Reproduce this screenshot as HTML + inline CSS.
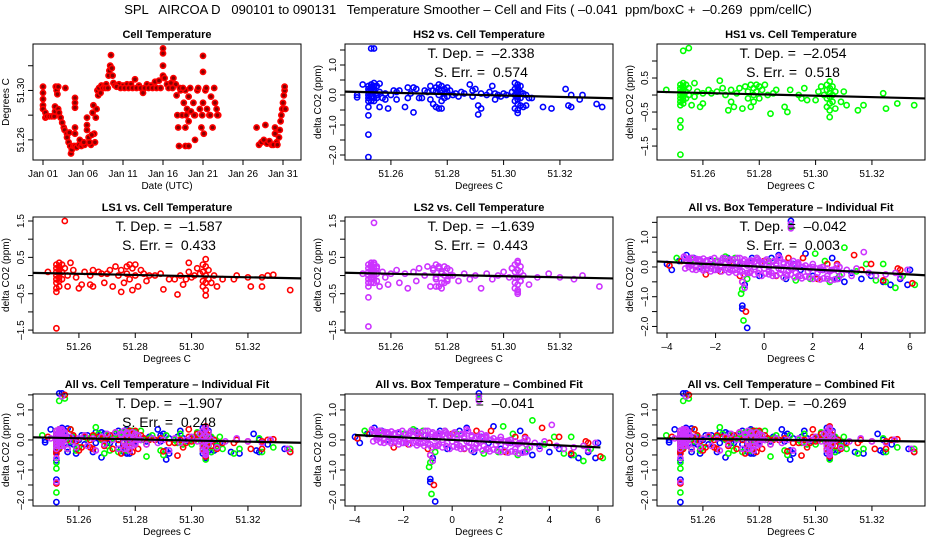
<!DOCTYPE html>
<html><head><meta charset="utf-8"><style>
html,body{margin:0;padding:0;background:#fff;}
svg{display:block;font-family:"Liberation Sans",Arial,sans-serif;}
svg text{white-space:pre;}
</style></head><body>
<svg id="c" width="936" height="540" viewBox="0 0 936 540">
<text x="468" y="14" text-anchor="middle" font-size="13" xml:space="preserve">SPL   AIRCOA D   090101 to 090131   Temperature Smoother – Cell and Fits ( –0.041  ppm/boxC +  –0.269  ppm/cellC)</text>
</svg>
<script>
// ---------- DATA ----------
const timeDays=[0,0,0,0,0,0.3,0.3,0.5,0.8,1.1,1.4,1.5,1.5,1.6,1.7,1.8,1.9,1.9,2.0,2.2,2.4,2.6,2.7,3.0,3.0,3.2,3.4,3.5,3.6,3.8,4.0,4.0,4.0,4.0,4.0,4.0,4.2,4.5,4.8,5.0,5.2,5.5,5.5,5.5,5.7,6.0,6.2,6.3,6.4,6.5,6.6,6.7,6.8,6.9,7.0,7.3,7.6,7.9,8.2,8.3,8.4,8.5,8.6,8.7,8.8,9.0,9.5,10,10.5,11,11.5,12,12.5,13,13.5,14,14.5,15,15,15,15,15.2,15.5,16,16.3,16.6,16.7,16.8,16.9,17.0,17.2,17.4,17.6,17.8,17.8,17.8,18.0,18.2,18.2,18.2,18.5,18.8,19.0,19.0,19.3,19.6,19.8,20.0,20.0,20.0,20.1,20.3,20.5,20.8,21.0,21.2,21.5,21.7,21.9,26.7,27.0,27.3,27.6,28.0,28.3,28.6,29.0,29.0,29.2,29.5,29.6,29.7,29.8,29.9,30.0,30.1,30.2,30.2,30.3,7.2,7.5,7.8,8.1,9.2,9.7,10.2,10.7,11.2,11.7,12.2,12.7,13.2,13.7,14.2,14.7,15.7,16.2,17.1,17.5,17.9,18.4,18.9,19.4,19.9,20.4,20.9,21.4,21.8,2.8,3.3,4.6,5.1,5.8,6.1,27.8,28.8,29.3];
const timeTemps=[51.303,51.298,51.293,51.288,51.285,51.282,51.278,51.279,51.279,51.279,51.279,51.283,51.287,51.303,51.300,51.297,51.285,51.303,51.282,51.278,51.274,51.270,51.268,51.265,51.262,51.258,51.255,51.249,51.252,51.255,51.294,51.290,51.286,51.270,51.265,51.255,51.254,51.256,51.255,51.257,51.256,51.278,51.272,51.268,51.262,51.256,51.282,51.288,51.265,51.258,51.278,51.285,51.300,51.296,51.302,51.304,51.303,51.305,51.312,51.316,51.320,51.3286,51.318,51.312,51.306,51.304,51.305,51.304,51.305,51.305,51.309,51.304,51.298,51.305,51.304,51.307,51.308,51.312,51.320,51.330,51.334,51.310,51.305,51.306,51.310,51.305,51.296,51.280,51.270,51.255,51.300,51.280,51.290,51.255,51.270,51.300,51.285,51.255,51.275,51.295,51.283,51.290,51.260,51.280,51.300,51.285,51.270,51.328,51.315,51.290,51.265,51.300,51.285,51.280,51.295,51.270,51.290,51.285,51.280,51.270,51.256,51.258,51.260,51.257,51.259,51.256,51.265,51.270,51.258,51.262,51.268,51.275,51.280,51.285,51.290,51.296,51.300,51.303,51.285,51.298,51.302,51.302,51.302,51.303,51.302,51.302,51.302,51.302,51.302,51.302,51.302,51.302,51.302,51.302,51.302,51.302,51.302,51.302,51.302,51.280,51.302,51.280,51.302,51.280,51.302,51.280,51.302,51.280,51.302,51.266,51.260,51.258,51.258,51.264,51.272,51.256,51.256,51.258];

const hs2T=[51.248,51.248,51.250,51.252,51.252,51.252,51.252,51.252,51.252,51.252,51.252,51.252,51.252,51.253,51.254,51.253,51.253,51.253,51.253,51.253,51.253,51.254,51.254,51.254,51.254,51.254,51.254,51.255,51.255,51.255,51.256,51.256,51.256,51.257,51.258,51.258,51.259,51.260,51.261,51.262,51.262,51.263,51.265,51.266,51.266,51.267,51.268,51.268,51.269,51.270,51.271,51.272,51.273,51.274,51.274,51.275,51.275,51.276,51.276,51.276,51.277,51.277,51.277,51.277,51.278,51.278,51.278,51.278,51.279,51.279,51.279,51.280,51.280,51.280,51.281,51.282,51.283,51.284,51.285,51.286,51.288,51.289,51.289,51.290,51.291,51.291,51.292,51.292,51.294,51.295,51.296,51.297,51.297,51.298,51.299,51.300,51.301,51.303,51.304,51.304,51.304,51.304,51.304,51.305,51.305,51.305,51.305,51.305,51.305,51.305,51.305,51.305,51.306,51.306,51.306,51.306,51.307,51.307,51.308,51.308,51.309,51.310,51.314,51.317,51.322,51.323,51.324,51.324,51.327,51.328,51.333,51.335];
const hs2D=[0.0,-0.08,0.35,0.3,0.2,0.1,0.0,-0.1,-0.2,-0.4,-0.68,-1.32,-2.07,1.55,1.55,0.35,0.25,0.15,0.05,-0.05,-0.2,0.4,0.3,0.2,0.1,-0.1,-0.2,0.3,0.0,-0.1,0.38,0.1,-0.4,-0.1,0.05,-0.15,-0.45,0.0,0.15,0.1,-0.15,0.15,-0.4,0.25,-0.1,0.05,0.25,-0.58,0.2,-0.1,-0.1,0.15,0.1,0.3,-0.15,-0.3,0.15,-0.4,0.25,0.1,-0.45,0.35,0.2,0.0,0.3,0.15,-0.2,-0.45,0.2,0.05,-0.1,0.25,0.1,-0.05,0.15,0.0,0.05,-0.05,0.1,0.05,0.35,0.15,-0.05,0.2,-0.35,-0.65,0.05,-0.45,0.0,0.1,0.3,0.05,-0.15,0.0,-0.05,0.05,0.0,0.1,0.4,0.2,0.0,-0.2,-0.45,0.35,0.25,0.15,0.05,-0.05,-0.15,-0.3,-0.5,-0.6,0.3,0.1,-0.1,-0.35,0.05,-0.4,0.0,-0.35,-0.1,-0.1,-0.4,-0.45,0.2,-0.35,0.0,-0.4,-0.15,0.0,-0.3,-0.4];

const hs1T=[51.247,51.252,51.252,51.252,51.252,51.252,51.252,51.252,51.252,51.252,51.252,51.253,51.255,51.253,51.253,51.253,51.253,51.253,51.253,51.253,51.254,51.254,51.254,51.255,51.255,51.256,51.257,51.257,51.258,51.259,51.260,51.260,51.262,51.263,51.265,51.266,51.267,51.268,51.269,51.270,51.270,51.271,51.272,51.273,51.274,51.275,51.276,51.276,51.277,51.277,51.278,51.278,51.278,51.279,51.279,51.280,51.280,51.281,51.282,51.283,51.284,51.285,51.286,51.289,51.290,51.291,51.294,51.295,51.296,51.297,51.300,51.301,51.302,51.303,51.304,51.304,51.304,51.304,51.305,51.305,51.305,51.305,51.305,51.305,51.305,51.306,51.306,51.306,51.307,51.307,51.309,51.310,51.311,51.315,51.317,51.324,51.325,51.329,51.335];
const hs1D=[0.15,0.3,0.2,0.1,0.0,-0.1,-0.2,-0.3,-0.75,-0.95,-1.75,1.3,1.38,0.35,0.25,0.15,0.05,-0.05,-0.15,-0.25,0.3,0.1,-0.1,0.2,0.0,-0.3,0.35,-0.05,0.1,-0.35,0.05,-0.25,0.15,0.05,0.1,0.42,0.2,0.0,-0.45,0.15,-0.2,-0.35,0.05,0.2,-0.4,0.25,0.1,-0.1,0.3,-0.35,0.2,0.0,-0.2,0.3,0.1,0.25,-0.1,0.15,0.3,0.0,-0.55,0.05,0.15,-0.35,-0.5,0.15,0.0,-0.1,0.2,-0.15,-0.15,0.1,0.25,0.0,0.3,0.15,-0.1,-0.35,0.4,0.2,0.05,-0.05,-0.25,-0.45,-0.65,0.25,0.0,-0.2,0.1,-0.4,-0.2,0.1,-0.3,-0.45,-0.3,0.05,-0.4,-0.25,-0.3];

const ls1T=[51.249,51.252,51.252,51.252,51.252,51.252,51.252,51.252,51.252,51.252,51.255,51.253,51.253,51.253,51.253,51.253,51.253,51.253,51.254,51.254,51.254,51.255,51.256,51.256,51.257,51.258,51.259,51.260,51.261,51.262,51.264,51.264,51.265,51.265,51.267,51.268,51.269,51.270,51.271,51.272,51.273,51.274,51.275,51.275,51.276,51.277,51.277,51.278,51.278,51.279,51.279,51.280,51.280,51.281,51.282,51.283,51.284,51.285,51.287,51.289,51.290,51.292,51.294,51.295,51.296,51.297,51.298,51.299,51.299,51.300,51.301,51.302,51.303,51.304,51.304,51.304,51.304,51.305,51.305,51.305,51.305,51.305,51.305,51.306,51.306,51.307,51.308,51.309,51.311,51.315,51.316,51.320,51.321,51.325,51.325,51.327,51.329,51.335];
const ls1D=[0.1,0.3,0.2,0.1,0.0,-0.1,-0.2,-0.35,-0.45,-1.45,1.5,0.35,0.25,0.15,0.05,-0.05,-0.15,-0.3,0.3,0.1,-0.1,0.2,0.0,-0.3,0.35,0.15,-0.05,-0.35,-0.25,0.1,0.0,-0.25,0.15,-0.3,0.1,0.05,-0.2,0.05,0.15,-0.3,0.25,0.0,0.15,-0.45,-0.2,0.25,0.05,0.3,-0.1,0.2,-0.4,0.3,0.0,-0.3,0.15,0.05,-0.15,0.0,0.0,0.05,-0.38,-0.1,-0.1,-0.52,0.0,-0.25,-0.1,0.35,0.1,-0.05,0.0,0.2,0.05,0.3,0.1,-0.15,-0.3,0.45,0.25,0.0,-0.2,-0.4,-0.55,0.15,-0.1,-0.2,0.0,-0.3,-0.1,-0.1,0.0,-0.05,-0.3,-0.05,-0.3,0.0,0.02,-0.4];

const ls2T=[51.250,51.252,51.252,51.252,51.252,51.252,51.252,51.252,51.252,51.252,51.254,51.253,51.253,51.253,51.253,51.253,51.253,51.254,51.254,51.254,51.255,51.256,51.257,51.258,51.259,51.260,51.262,51.263,51.265,51.266,51.268,51.269,51.270,51.272,51.273,51.274,51.275,51.276,51.276,51.277,51.277,51.278,51.278,51.279,51.279,51.280,51.281,51.282,51.284,51.286,51.288,51.290,51.292,51.294,51.296,51.298,51.300,51.302,51.303,51.304,51.304,51.305,51.305,51.305,51.305,51.305,51.305,51.306,51.306,51.307,51.309,51.312,51.316,51.320,51.325,51.328,51.334];
const ls2D=[0.05,0.3,0.2,0.1,0.0,-0.1,-0.2,-0.3,-0.6,-1.4,1.45,0.35,0.25,0.15,0.05,-0.05,-0.2,0.3,0.1,-0.1,0.2,-0.3,0.1,-0.05,-0.25,0.05,0.15,-0.2,0.05,-0.35,0.1,-0.15,0.2,0.0,0.25,-0.3,0.15,0.3,-0.1,0.2,-0.3,0.1,-0.2,0.25,0.0,-0.1,0.15,0.0,-0.15,0.05,-0.1,0.0,-0.35,0.05,-0.1,0.0,0.1,-0.05,0.2,0.3,-0.2,0.35,0.15,-0.05,-0.25,-0.4,-0.5,0.1,-0.15,0.0,-0.25,-0.05,0.05,-0.05,-0.1,0.0,-0.3];
const ls2bT=[51.253,51.253,51.253,51.254,51.254,51.254,51.254,51.255,51.255,51.255,51.275,51.276,51.277,51.278,51.279,51.280,51.281,51.276,51.278,51.280,51.303,51.304,51.304,51.305,51.306,51.306,51.304,51.305];
const ls2bD=[0.3,0.1,-0.1,0.35,0.2,0.0,-0.2,0.25,0.05,-0.15,0.2,-0.05,0.25,0.05,-0.2,0.2,0.0,-0.3,-0.35,-0.15,0.2,0.1,-0.05,0.4,-0.15,0.25,-0.35,-0.45];

const boxBlueX=[-4.0,-3.8,-3.5,-3.2,-2.9,-2.6,-2.2,-1.9,-1.5,-1.1,-0.9,-0.9,-0.8,-0.7,-0.5,-0.2,0.3,0.6,0.9,1.2,1.5,1.7,2.0,2.4,2.8,3.0,3.3,3.6,4.0,4.4,4.9,5.2,5.6,5.9,6.0,1.1];
const boxBlueY=[0.1,-0.1,0.2,0.4,0.3,0.0,0.2,-0.1,0.3,0.15,-1.3,-1.4,-0.6,-2.05,0.3,-0.3,0.3,0.4,-0.4,0.1,-0.1,0.45,-0.3,-0.1,0.3,-0.4,-0.5,-0.2,-0.4,-0.3,-0.5,-0.6,-0.4,-0.6,-0.1,1.55];
const boxGreenX=[-3.6,-3.0,-2.5,-2.0,-1.6,-1.2,-0.95,-0.9,-0.85,-0.7,-0.3,0.2,0.8,1.1,1.3,1.9,2.1,2.5,2.7,3.1,3.3,3.8,4.2,4.6,4.9,5.0,5.4,5.7,6.2];
const boxGreenY=[0.3,0.25,0.1,0.2,0.35,0.3,-0.9,-0.75,-1.8,-0.4,0.3,0.2,-0.35,1.35,-0.45,-0.4,0.45,0.2,-0.5,-0.3,0.65,-0.15,0.1,-0.45,0.1,-0.5,-0.7,-0.3,-0.6];
const boxRedX=[-3.9,-3.4,-2.8,-2.4,-1.8,-1.4,-1.0,-0.9,-0.75,-0.6,0.0,0.5,1.0,1.6,2.2,2.6,3.0,3.7,4.0,4.4,4.9,5.5,5.6,6.1];
const boxRedY=[0.05,0.2,0.05,-0.25,-0.15,0.2,-0.3,-0.5,-1.5,-0.2,0.2,-0.3,0.3,0.3,-0.4,0.1,0.1,0.4,-0.1,0.1,-0.45,-0.05,-0.1,-0.55];
const boxPurpX=[-3.3,-3.2,-3.1,-3.0,-2.9,-2.8,-2.7,-2.6,-2.5,-2.4,-2.3,-2.2,-2.1,-2.0,-1.9,-1.8,-1.7,-1.6,-1.5,-1.4,-1.3,-1.2,-1.1,-1.0,-0.9,-0.8,-0.7,-0.6,-0.5,-0.4,-0.3,-0.2,-0.1,0.0,0.1,0.2,0.3,0.4,0.5,0.6,0.7,0.8,0.9,1.0,1.1,1.2,1.3,1.4,1.5,1.6,1.8,2.0,2.2,2.4,2.6,2.8,3.0,3.2,3.4,3.6,3.8,4.1,4.3,4.6,5.0,5.4,5.6,5.9,1.1,1.1,-0.9,-0.8,-3.0,-2.6,-2.2,-1.8,-1.4,-1.0,-0.6,-0.2,0.2,0.6,1.0,1.4,1.9,2.3,2.7,3.1];
const boxPurpY=[0.35,0.2,0.1,0.3,0.15,0.0,0.25,0.1,-0.05,0.2,0.05,0.25,0.1,-0.1,0.2,0.05,0.3,0.1,-0.05,0.25,0.1,-0.1,0.3,0.1,-0.15,0.25,0.05,-0.2,0.2,0.0,0.3,-0.1,0.15,-0.05,0.25,0.0,-0.2,0.2,0.05,0.35,-0.1,0.15,-0.25,0.1,-0.05,0.2,-0.2,0.05,-0.3,0.0,-0.15,0.1,-0.2,0.0,-0.3,-0.1,0.05,-0.25,-0.1,-0.3,-0.05,0.5,-0.2,-0.3,-0.25,-0.2,-0.35,-0.1,1.45,1.3,-0.5,-0.7,0.05,0.2,-0.05,0.15,-0.1,0.05,0.1,0.2,-0.15,-0.05,-0.15,0.15,-0.05,-0.1,-0.15,0.0];
const boxPurp2X=[-3.25,-3.1,-2.95,-2.8,-2.65,-2.5,-2.35,-2.2,-2.05,-1.9,-1.75,-1.6,-1.45,-1.3,-1.15,-1.0,-0.85,-0.7,-0.55,-0.4,-0.25,-0.1,0.05,0.2,0.35,0.5,0.65,0.8,0.95,1.1,1.25,1.4,1.55,1.7,1.85,2.0,2.15,2.3,2.45,2.6,2.75,2.9,3.05];
const boxPurp2Ya=[0.3,0.28,0.3,0.27,0.25,0.28,0.22,0.25,0.3,0.2,0.22,0.28,0.2,0.25,0.15,0.3,0.2,0.15,0.22,0.18,0.25,0.1,0.2,0.15,0.18,0.12,0.3,0.1,0.05,0.12,0.08,0.1,0.0,0.05,-0.02,0.0,-0.05,-0.03,-0.1,-0.05,-0.12,-0.08,-0.15];
const boxPurp2Yb=[-0.05,0.0,-0.08,-0.1,-0.05,-0.12,-0.05,-0.15,-0.1,-0.08,-0.15,-0.1,-0.18,-0.12,-0.2,-0.15,-0.25,-0.2,-0.15,-0.25,-0.2,-0.3,-0.22,-0.25,-0.3,-0.28,-0.22,-0.35,-0.3,-0.25,-0.35,-0.3,-0.38,-0.32,-0.35,-0.4,-0.35,-0.42,-0.38,-0.4,-0.45,-0.42,-0.4];

const fitSlopes=[-2.338,-2.054,-1.587,-1.639,-0.042,-1.907,-0.041,-0.269];
const fitText=[["T. Dep. =  –2.338","S. Err. =  0.574"],["T. Dep. =  –2.054","S. Err. =  0.518"],["T. Dep. =  –1.587","S. Err. =  0.433"],["T. Dep. =  –1.639","S. Err. =  0.443"],["T. Dep. =  –0.042","S. Err. =  0.003"],["T. Dep. =  –1.907","S. Err. =  0.248"],["T. Dep. =  –0.041"],["T. Dep. =  –0.269"]];
const tempTicks=[51.26,51.28,51.30,51.32];
const boxTicks=[-4,-2,0,2,4,6];
const dayTicks=[0,5,10,15,20,25,30];
const dayLabels=["Jan 01","Jan 06","Jan 11","Jan 16","Jan 21","Jan 26","Jan 31"];

// ---------- DRAW ----------
const NS="http://www.w3.org/2000/svg";
const svg=document.getElementById('c');
function mk(tag,attrs,parent){const e=document.createElementNS(NS,tag);for(const k in attrs)e.setAttribute(k,attrs[k]);(parent||svg).appendChild(e);return e;}

function panel(o){
  const g=mk('g',{});
  
  
  const L=o.L,T=o.T,W=o.W,H=o.H;
  const sx=v=>L+(v-o.xl[0])/(o.xl[1]-o.xl[0])*W;
  const sy=v=>T+H-(v-o.yl[0])/(o.yl[1]-o.yl[0])*H;
  const t=mk('text',{x:L+W/2,y:T-6,'text-anchor':'middle','font-size':11,'font-weight':'bold'},g);
  t.textContent=o.title;
  
  
  const pg=mk('g',{},g);
  
  
  o.series.forEach(s=>{
    for(let i=0;i<s.x.length;i++){
      const c=mk('circle',{cx:sx(s.x[i]).toFixed(1),cy:sy(s.y[i]).toFixed(1),r:2.6,fill:s.fill||'none',stroke:s.c,'stroke-width':1.6},pg);
      
      
    }
  });
  if(o.fit){
    const f=o.fit,x0=f.x0,x1=f.x1;
    const ln=mk('line',{x1:sx(x0),y1:sy(f.a+f.s*(x0-f.c)),x2:sx(x1),y2:sy(f.a+f.s*(x1-f.c)),stroke:'#000','stroke-width':2.2},g);
    
    
  }
  if(o.txt){o.txt.forEach((s,i)=>{const e=mk('text',{x:L+W/2+2,y:T+14+i*19,'text-anchor':'middle','font-size':14},g);e.textContent=s;
    
    });}
  const r=mk('rect',{x:L,y:T,width:W,height:H,fill:'none',stroke:'#000','stroke-width':1},g);
  
  
  o.xt.forEach((v,i)=>{const x=sx(v);mk('line',{x1:x,y1:T+H,x2:x,y2:T+H+5,stroke:'#000'},g);
    const e=mk('text',{x:x,y:T+H+17,'text-anchor':'middle','font-size':10},g);e.textContent=o.xlab[i];
    
    });
  o.yt.forEach(v=>{const y=sy(v);mk('line',{x1:L,y1:y,x2:L-5,y2:y,stroke:'#000'},g);});
  o.ylabv.forEach((v,i)=>{const y=sy(v);const e=mk('text',{x:L-9,y:y,'text-anchor':'middle','font-size':10,transform:`rotate(-90 ${L-9} ${y})`},g);e.textContent=o.ylab[i];
    
    });
  const xt=mk('text',{x:L+W/2,y:T+H+29,'text-anchor':'middle','font-size':10},g);xt.textContent=o.xtitle;
  
  
  const yx=L-24,yy=T+H/2;
  const yt=mk('text',{x:yx,y:yy,'text-anchor':'middle','font-size':10,transform:`rotate(-90 ${yx} ${yy})`},g);yt.textContent=o.ytitle;
  
  
}

const cols=[33,345,657],W=268;
const rowsT=[44,217,394],rowsH=[116,116,112];
const tl=[51.2437,51.2437+268/2817];
const bl=[-4.41,-4.41+268/24.3];
const tlab=tempTicks.map(v=>v.toFixed(2));
const blab=boxTicks.map(v=>v<0?"–"+(-v):String(v));
const B='#0000ff',G='#00ff00',R='#ff0000',P='#cc33ff';
const y4=[-2,-1.5,-1,-0.5,0,0.5,1,1.5],y4v=[-2,-1,0,1],y4l=["–2.0","–1.0","0.0","1.0"];
const ls2S=[{x:ls2T,y:ls2D,c:P},{x:ls2bT,y:ls2bD,c:P}];
const allSeries=[{x:hs2T,y:hs2D,c:B},{x:hs1T,y:hs1D,c:G},{x:ls1T,y:ls1D,c:R}].concat(ls2S);
const boxSeries=[{x:boxBlueX,y:boxBlueY,c:B},{x:boxGreenX,y:boxGreenY,c:G},{x:boxRedX,y:boxRedY,c:R},{x:boxPurpX,y:boxPurpY,c:P},{x:boxPurp2X,y:boxPurp2Ya,c:P},{x:boxPurp2X,y:boxPurp2Yb,c:P}];
const tc=51.29;

panel({name:'cell-temperature-panel',L:cols[0],T:rowsT[0],W,H:rowsH[0],xl:[-1.25,32.25],yl:[51.2437,51.3376],title:'Cell Temperature',
  series:[{x:timeDays,y:timeTemps,c:'#ff0000',fill:'#880000'}],xt:dayTicks,xlab:dayLabels,yt:[51.26,51.28,51.30,51.32],ylabv:[51.26,51.30],ylab:["51.26","51.30"],xtitle:'Date (UTC)',ytitle:'Degrees C'});
panel({name:'hs2-panel',L:cols[1],T:rowsT[0],W,H:rowsH[0],xl:tl,yl:[-2.167,1.7],title:'HS2 vs. Cell Temperature',series:[allSeries[0]],
  fit:{a:0.005,s:fitSlopes[0],c:tc,x0:tl[0],x1:tl[1]},txt:fitText[0],xt:tempTicks,xlab:tlab,yt:y4,ylabv:y4v,ylab:y4l,xtitle:'Degrees C',ytitle:'delta CO2 (ppm)'});
panel({name:'hs1-panel',L:cols[2],T:rowsT[0],W,H:rowsH[0],xl:tl,yl:[-1.91,1.5],title:'HS1 vs. Cell Temperature',series:[allSeries[1]],
  fit:{a:0.0,s:fitSlopes[1],c:tc,x0:tl[0],x1:tl[1]},txt:fitText[1],xt:tempTicks,xlab:tlab,yt:[-1.5,-1,-0.5,0,0.5,1],ylabv:[-1.5,-0.5,0.5],ylab:["–1.5","–0.5","0.5"],xtitle:'Degrees C',ytitle:'delta CO2 (ppm)'});
panel({name:'ls1-panel',L:cols[0],T:rowsT[1],W,H:rowsH[1],xl:tl,yl:[-1.58,1.61],title:'LS1 vs. Cell Temperature',series:[allSeries[2]],
  fit:{a:0.0,s:fitSlopes[2],c:tc,x0:tl[0],x1:tl[1]},txt:fitText[2],xt:tempTicks,xlab:tlab,yt:[-1.5,-1,-0.5,0,0.5,1,1.5],ylabv:[-1.5,-0.5,0.5,1.5],ylab:["–1.5","–0.5","0.5","1.5"],xtitle:'Degrees C',ytitle:'delta CO2 (ppm)'});
panel({name:'ls2-panel',L:cols[1],T:rowsT[1],W,H:rowsH[1],xl:tl,yl:[-1.58,1.61],title:'LS2 vs. Cell Temperature',series:ls2S,
  fit:{a:0.0,s:fitSlopes[3],c:tc,x0:tl[0],x1:tl[1]},txt:fitText[3],xt:tempTicks,xlab:tlab,yt:[-1.5,-1,-0.5,0,0.5,1,1.5],ylabv:[-1.5,-0.5,0.5,1.5],ylab:["–1.5","–0.5","0.5","1.5"],xtitle:'Degrees C',ytitle:'delta CO2 (ppm)'});
panel({name:'all-box-individual-panel',L:cols[2],T:rowsT[1],W,H:rowsH[1],xl:bl,yl:[-2.22,1.68],title:'All vs. Box Temperature – Individual Fit',series:boxSeries,
  fit:{a:0.0,s:fitSlopes[4],c:0,x0:bl[0],x1:bl[1]},txt:fitText[4],xt:boxTicks,xlab:blab,yt:y4,ylabv:y4v,ylab:y4l,xtitle:'Degrees C',ytitle:'delta CO2 (ppm)'});
panel({name:'all-cell-individual-panel',L:cols[0],T:rowsT[2],W,H:rowsH[2],xl:tl,yl:[-2.2,1.53],title:'All vs. Cell Temperature – Individual Fit',series:allSeries,
  fit:{a:0.0,s:fitSlopes[5],c:tc,x0:tl[0],x1:tl[1]},txt:fitText[5],xt:tempTicks,xlab:tlab,yt:y4,ylabv:y4v,ylab:y4l,xtitle:'Degrees C',ytitle:'delta CO2 (ppm)'});
panel({name:'all-box-combined-panel',L:cols[1],T:rowsT[2],W,H:rowsH[2],xl:bl,yl:[-2.2,1.53],title:'All vs. Box Temperature – Combined Fit',series:boxSeries,
  fit:{a:0.0,s:fitSlopes[6],c:0,x0:-4,x1:6.1},txt:fitText[6],xt:boxTicks,xlab:blab,yt:y4,ylabv:y4v,ylab:y4l,xtitle:'Degrees C',ytitle:'delta CO2 (ppm)'});
panel({name:'all-cell-combined-panel',L:cols[2],T:rowsT[2],W,H:rowsH[2],xl:tl,yl:[-2.2,1.53],title:'All vs. Cell Temperature – Combined Fit',series:allSeries,
  fit:{a:0.0,s:fitSlopes[7]*4,c:tc,x0:tl[0],x1:tl[1]},txt:fitText[7],xt:tempTicks,xlab:tlab,yt:y4,ylabv:y4v,ylab:y4l,xtitle:'Degrees C',ytitle:'delta CO2 (ppm)'});
</script>
</body></html>
